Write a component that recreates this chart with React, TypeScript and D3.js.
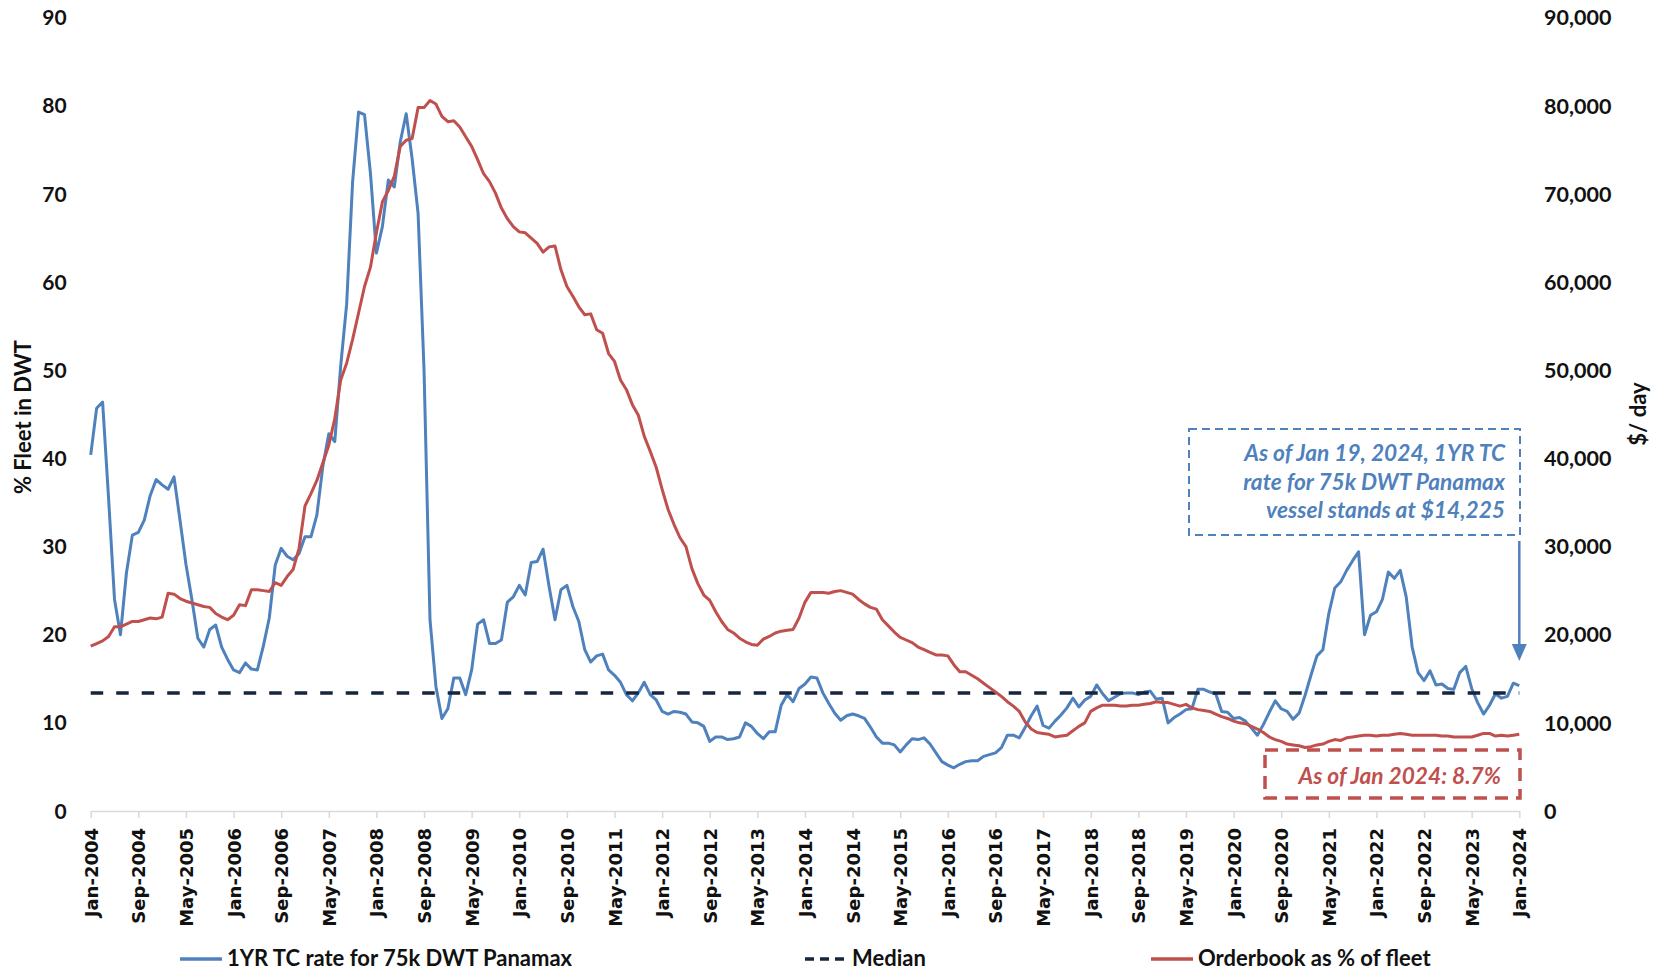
import React, { useRef, useEffect } from "react";
import * as d3 from "d3";

// monthly, Jan-2004 .. Jan-2024
const startMonth = new Date(2004, 0, 1);
const endMonth = new Date(2024, 0, 1);

// 1YR TC rate for 75k DWT Panamax ($/day)
const tcRate = [
  40400, 45700, 46400, 35500, 24000, 20000, 27000, 31300, 31600, 33000,
  35800, 37600, 37000, 36500, 37900, 33000, 28000, 24000, 19600, 18600,
  20600, 21100, 18600, 17200, 16000, 15700, 16800, 16100, 16000, 18700,
  21900, 27900, 29800, 28900, 28500, 29200, 31100, 31100, 33600, 39100,
  42800, 41900, 50500, 57500, 71400, 79300, 79000, 72300, 63300, 66300,
  71600, 70800, 75900, 79100, 74000, 67800, 50000, 21700, 14100, 10500,
  11600, 15100, 15100, 13200, 16000, 21200, 21700, 19000, 19000, 19400,
  23700, 24300, 25600, 24500, 28200, 28300, 29700, 25500, 21700, 25100,
  25600, 23200, 21500, 18300, 16900, 17600, 17800, 16000, 15400, 14600,
  13200, 12500, 13400, 14600, 13200, 12600, 11300, 11000, 11300, 11200,
  11000, 10100, 10000, 9600, 7900, 8400, 8400, 8100, 8200, 8400,
  10000, 9600, 8800, 8200, 9000, 9000, 12000, 13200, 12400, 13900,
  14400, 15200, 15100, 13400, 12200, 11100, 10300, 10800, 11000, 10800,
  10500, 9500, 8400, 7700, 7700, 7500, 6700, 7500, 8200, 8100,
  8300, 7600, 6600, 5600, 5200, 4900, 5300, 5600, 5700, 5700,
  6200, 6400, 6600, 7200, 8600, 8600, 8300, 9500, 10800, 11900,
  9700, 9400, 10200, 10900, 11700, 12800, 11800, 12600, 13000, 14300,
  13300, 12500, 12900, 13300, 13400, 13400, 13200, 13500, 13600, 12700,
  12800, 10000, 10600, 11000, 11500, 11600, 13800, 13800, 13500, 13300,
  11300, 11200, 10500, 10600, 10200, 9400, 8600, 9800, 11200, 12500,
  11600, 11300, 10400, 11100, 13100, 15400, 17600, 18300, 22400, 25300,
  26000, 27300, 28400, 29400, 20000, 22200, 22600, 24000, 27100, 26400,
  27300, 24300, 18600, 15700, 14800, 15900, 14300, 14400, 13900, 13800,
  15700, 16400, 13900, 12300, 11000, 12000, 13300, 12800, 13000, 14500,
  14225,
];

// Orderbook as % of fleet
const orderbook = [
  18.7, 19.0, 19.3, 19.8, 20.9, 20.9, 21.2, 21.5, 21.5, 21.7,
  21.9, 21.8, 22.0, 24.7, 24.6, 24.1, 23.8, 23.6, 23.4, 23.2,
  23.1, 22.4, 22.0, 21.7, 22.2, 23.4, 23.3, 25.1, 25.1, 25.0,
  24.9, 25.9, 25.6, 26.6, 27.4, 29.8, 34.6, 36.0, 37.5, 39.5,
  41.5, 44.5, 48.9, 50.8, 53.5, 56.5, 59.5, 61.7, 65.6, 69.1,
  70.4, 72.0, 75.4, 76.1, 76.3, 79.8, 79.8, 80.6, 80.2, 78.8,
  78.2, 78.3, 77.6, 76.5, 75.4, 73.9, 72.3, 71.4, 70.1, 68.4,
  67.2, 66.3, 65.7, 65.6, 65.0, 64.4, 63.4, 64.0, 64.1, 61.4,
  59.5, 58.4, 57.2, 56.3, 56.4, 54.6, 54.2, 51.9, 51.0, 48.9,
  47.8, 46.1, 44.9, 42.5, 40.8, 39.0, 36.5, 34.2, 32.5, 31.0,
  30.0, 27.5, 25.8, 24.5, 23.9, 22.6, 21.5, 20.6, 20.2, 19.6,
  19.2, 18.9, 18.8, 19.5, 19.8, 20.2, 20.4, 20.5, 20.6, 21.9,
  23.7, 24.8, 24.8, 24.8, 24.7, 24.9, 25.0, 24.8, 24.6, 24.0,
  23.5, 23.1, 22.9, 21.7, 21.0, 20.3, 19.7, 19.4, 19.1, 18.6,
  18.3, 18.0, 17.7, 17.7, 17.6, 16.6, 15.8, 15.8, 15.4, 15.0,
  14.5, 14.0, 13.5, 13.0, 12.4, 11.9, 11.3, 10.1, 9.3, 8.9,
  8.8, 8.7, 8.4, 8.5, 8.6, 9.1, 9.6, 10.0, 11.3, 11.7,
  12.0, 12.0, 12.0, 11.9, 11.9, 12.0, 12.0, 12.1, 12.2, 12.4,
  12.3, 12.3, 12.1, 11.9, 12.1, 11.7, 11.5, 11.4, 11.3, 11.0,
  10.7, 10.5, 10.2, 10.0, 9.9, 9.6, 9.3, 8.9, 8.4, 8.1,
  7.9, 7.6, 7.5, 7.4, 7.2, 7.3, 7.5, 7.6, 7.9, 8.1,
  8.0, 8.3, 8.4, 8.5, 8.6, 8.6, 8.5, 8.6, 8.6, 8.7,
  8.8, 8.7, 8.6, 8.6, 8.6, 8.6, 8.6, 8.5, 8.5, 8.4,
  8.4, 8.4, 8.4, 8.6, 8.8, 8.8, 8.5, 8.6, 8.5, 8.6,
  8.7,
];

const medianRate = 13400;

const leftTicks = [0, 10, 20, 30, 40, 50, 60, 70, 80, 90];
const rightTicks = [0, 10000, 20000, 30000, 40000, 50000, 60000, 70000, 80000, 90000];
const tickEvery = 8; // months between category labels

const seriesNames = ["1YR TC rate for 75k DWT Panamax", "Median", "Orderbook as % of fleet"];
const leftTitle = "% Fleet in DWT";
const rightTitle = "$/ day";
const tcNote = ["As of Jan 19, 2024, 1YR TC", "rate for 75k DWT Panamax", "vessel stands at $14,225"];
const obNote = "As of Jan 2024: 8.7%";

const BLUE = "#4F81BD";
const RED = "#C0504D";
const NAVY = "#16253D";
const FONT = "Lato, 'Open Sans', sans-serif";

export default function App() {
  const svgRef = useRef(null);

  useEffect(() => {
    const svg = d3.select(svgRef.current);
    svg.selectAll("*").remove();

    const months = d3.timeMonth.range(startMonth, d3.timeMonth.offset(endMonth, 1));
    const fmt = d3.timeFormat("%b-%Y");

    const left = 90.7, right = 1519.3, bottom = 811, top = 17.7;

    const x = d3.scaleLinear().domain([0, months.length - 1]).range([left, right]);
    const yL = d3.scaleLinear().domain([0, 90]).range([bottom, top]);
    const yR = d3.scaleLinear().domain([0, 90000]).range([bottom, top]);

    // x axis
    const xAxis = svg.append("g")
      .attr("transform", `translate(0,${bottom})`)
      .call(
        d3.axisBottom(x)
          .tickValues(d3.range(0, months.length, tickEvery))
          .tickFormat((i) => fmt(months[i]))
          .tickSize(7)
          .tickSizeOuter(0)
      );
    xAxis.select(".domain").attr("stroke", "#D9D9D9").attr("stroke-width", 1.5);
    xAxis.selectAll(".tick line").attr("stroke", "#D9D9D9").attr("stroke-width", 1.5);
    xAxis.selectAll(".tick text")
      .attr("transform", "rotate(-90)")
      .attr("x", -17)
      .attr("y", 0)
      .attr("dy", "0.36em")
      .attr("text-anchor", "end")
      .style("font-family", "'DejaVu Sans', sans-serif")
      .style("font-weight", "bold")
      .style("font-size", "18px")
      .attr("fill", "#111");

    // left y labels
    svg.append("g")
      .selectAll("text")
      .data(leftTicks)
      .enter()
      .append("text")
      .attr("x", 66.7)
      .attr("y", (d) => yL(d))
      .attr("dy", "0.36em")
      .attr("text-anchor", "end")
      .style("font-family", FONT)
      .style("font-weight", "bold")
      .style("font-size", "21px")
      .attr("fill", "#111")
      .text((d) => d);

    // right y labels
    svg.append("g")
      .selectAll("text")
      .data(rightTicks)
      .enter()
      .append("text")
      .attr("x", 1544)
      .attr("y", (d) => yR(d))
      .attr("dy", "0.36em")
      .attr("text-anchor", "start")
      .style("font-family", FONT)
      .style("font-weight", "bold")
      .style("font-size", "21.5px")
      .attr("fill", "#111")
      .text((d) => d3.format(",")(d));

    // axis titles
    svg.append("text")
      .attr("transform", "translate(23,417) rotate(-90)")
      .attr("text-anchor", "middle")
      .attr("dy", "0.36em")
      .style("font-family", FONT)
      .style("font-weight", "bold")
      .style("font-size", "22px")
      .attr("fill", "#111")
      .text(leftTitle);
    svg.append("text")
      .attr("transform", "translate(1638,414) rotate(-90)")
      .attr("text-anchor", "middle")
      .attr("dy", "0.36em")
      .style("font-family", FONT)
      .style("font-weight", "bold")
      .style("font-size", "22px")
      .attr("fill", "#111")
      .text(rightTitle);

    // series
    const tcLine = d3.line().x((d, i) => x(i)).y((d) => yR(d));
    const obLine = d3.line().x((d, i) => x(i)).y((d) => yL(d));

    svg.append("path")
      .datum(tcRate)
      .attr("d", tcLine)
      .attr("fill", "none")
      .attr("stroke", BLUE)
      .attr("stroke-width", 3)
      .attr("stroke-linejoin", "round");

    svg.append("line")
      .attr("x1", x(0))
      .attr("x2", x(months.length - 1))
      .attr("y1", yR(medianRate))
      .attr("y2", yR(medianRate))
      .attr("stroke", NAVY)
      .attr("stroke-width", 3.5)
      .attr("stroke-dasharray", "12.5,13");

    svg.append("path")
      .datum(orderbook)
      .attr("d", obLine)
      .attr("fill", "none")
      .attr("stroke", RED)
      .attr("stroke-width", 3)
      .attr("stroke-linejoin", "round");

    // annotation: TC rate
    svg.append("rect")
      .attr("x", 1189).attr("y", 429).attr("width", 331).attr("height", 106)
      .attr("fill", "none")
      .attr("stroke", BLUE)
      .attr("stroke-width", 2)
      .attr("stroke-dasharray", "8,5");
    svg.append("g")
      .selectAll("text")
      .data(tcNote)
      .enter()
      .append("text")
      .attr("x", 1505)
      .attr("y", (d, i) => 453 + i * 28.5)
      .attr("dy", "0.36em")
      .attr("text-anchor", "end")
      .style("font-family", FONT)
      .style("font-weight", "bold")
      .style("font-style", "italic")
      .style("font-size", "22.7px")
      .attr("fill", BLUE)
      .text((d) => d);

    const ax = x(months.length - 1);
    svg.append("line")
      .attr("x1", ax).attr("x2", ax)
      .attr("y1", 541).attr("y2", 648)
      .attr("stroke", BLUE)
      .attr("stroke-width", 2.5);
    svg.append("path")
      .attr("d", `M${ax - 7.5},644 L${ax + 7.5},644 L${ax},661 Z`)
      .attr("fill", BLUE);

    // annotation: orderbook
    svg.append("rect")
      .attr("x", 1265).attr("y", 750).attr("width", 255).attr("height", 48)
      .attr("fill", "none")
      .attr("stroke", RED)
      .attr("stroke-width", 3.5)
      .attr("stroke-dasharray", "13,8");
    svg.append("text")
      .attr("x", 1501)
      .attr("y", 776)
      .attr("dy", "0.36em")
      .attr("text-anchor", "end")
      .style("font-family", FONT)
      .style("font-weight", "bold")
      .style("font-style", "italic")
      .style("font-size", "22.7px")
      .attr("fill", RED)
      .text(obNote);

    // legend
    const legend = [
      { name: seriesNames[0], color: BLUE, dash: null, x0: 180 },
      { name: seriesNames[1], color: NAVY, dash: "9,6", x0: 805 },
      { name: seriesNames[2], color: RED, dash: null, x0: 1151 },
    ];
    const lg = svg.append("g").attr("transform", "translate(0,959)");
    legend.forEach((l) => {
      lg.append("line")
        .attr("x1", l.x0).attr("x2", l.x0 + 42)
        .attr("y1", 0).attr("y2", 0)
        .attr("stroke", l.color)
        .attr("stroke-width", 3.5)
        .attr("stroke-dasharray", l.dash);
      lg.append("text")
        .attr("x", l.x0 + 47)
        .attr("y", 0)
        .attr("dy", "0.34em")
        .style("font-family", FONT)
        .style("font-weight", "bold")
        .style("font-size", "22px")
        .attr("fill", "#111")
        .text(l.name);
    });
  }, []);

  return (
    <svg
      ref={svgRef}
      width={1660}
      height={974}
      style={{ position: "absolute", left: 0, top: 0, background: "#fff" }}
    ></svg>
  );
}
